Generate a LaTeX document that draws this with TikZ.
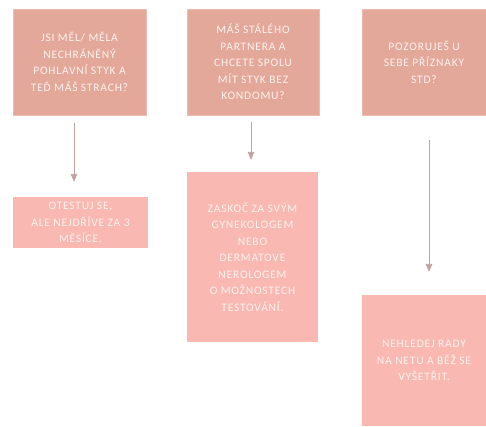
\documentclass[tikz,border=0pt]{standalone}
\usepackage{fontspec}
\newfontfamily\boxfont[LetterSpace=7]{Carlito}
\usetikzlibrary{arrows, positioning}

\definecolor{askfill}{HTML}{E3A899}
\definecolor{askedge}{HTML}{EDBCAE}
\definecolor{dofill}{HTML}{F9B8B1}
\definecolor{linkgray}{HTML}{C2A3A3}
\definecolor{boxtext}{HTML}{FDF2EE}

\begin{document}
\begin{tikzpicture}[
    x=1pt, y=-1pt,
    ask/.style={rectangle, fill=askfill, draw=askedge, line width=0.8pt, inner sep=0pt, align=center,
        text=boxtext, font=\boxfont\fontsize{11.5}{16.5}\selectfont},
    todo/.style={rectangle, fill=dofill, inner sep=0pt, align=center,
        text=boxtext, font=\boxfont\fontsize{11.5}{16.5}\selectfont},
    link/.style={-triangle 45, draw=linkgray, line width=0.8pt}
]

\useasboundingbox[fill=white] (0,0) rectangle (486,426);

% questions: top row
\node[ask, minimum width=133pt, minimum height=106pt] (q1) at (79.5,62) {
    JSI MĚL/ MĚLA\\
    NECHRÁNĚNÝ\\
    POHLAVNÍ STYK A\\
    TEĎ MÁŠ STRACH?
};

\node[ask, minimum width=132pt, minimum height=106pt] (q2) at (253,62) {
    MÁŠ STÁLÉHO\\
    PARTNERA A\\
    CHCETE SPOLU\\
    MÍT STYK BEZ\\
    KONDOMU?
};

\node[ask, minimum width=124pt, minimum height=106pt] (q3) at (424,62) {
    POZORUJEŠ U\\
    SEBE PŘÍZNAKY\\
    STD?
};

% answers
\node[todo, minimum width=135pt, minimum height=51pt] (a1) at (80.5,222.5) {
    OTESTUJ SE,\\
    ALE NEJDŘÍVE ZA 3\\
    MĚSÍCE.
};

\node[todo, minimum width=131pt, minimum height=170pt] (a2) at (252.5,257) {
    ZASKOČ ZA SVÝM\\
    GYNEKOLOGEM\\
    NEBO\\
    DERMATOVE\\
    NEROLOGEM\\
    O MOŽNOSTECH\\
    TESTOVÁNÍ.
};

\node[todo, minimum width=124pt, minimum height=131pt] (a3) at (424,360.5) {
    NEHLEDEJ RADY\\
    NA NETU A BĚŽ SE\\
    VYŠETŘIT.
};

% arrows
\draw[link, shorten <=8pt, shorten >=15pt] ([xshift=-5.5pt]q1.south) -- ([xshift=-6.5pt]a1.north);
\draw[link, shorten <=7pt, shorten >=12pt] ([xshift=-2pt]q2.south) -- ([xshift=-1.5pt]a2.north);
\draw[link, shorten <=25pt, shorten >=23pt] ([xshift=5pt]q3.south) -- ([xshift=5pt]a3.north);

\end{tikzpicture}
\end{document}
